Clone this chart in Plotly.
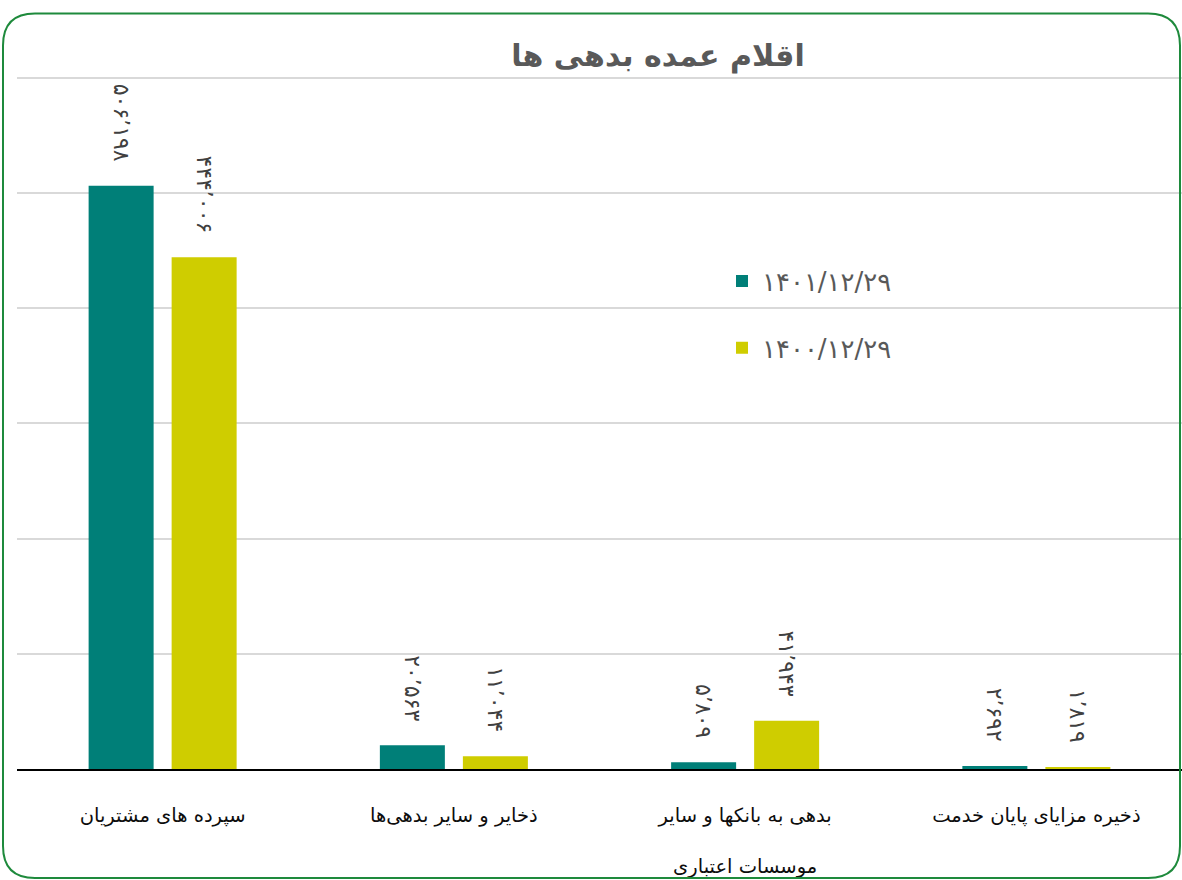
import plotly.graph_objects as go

categories = [
    "سپرده های مشتریان",
    "ذخایر و سایر بدهی‌ها",
    "بدهی به بانکها و سایر<br> <br>موسسات اعتباری",
    "ذخیره مزایای پایان خدمت",
]
series_names = ["۱۴۰۱/۱۲/۲۹", "۱۴۰۰/۱۲/۲۹"]
values_1401 = [506198, 20563, 5809, 2692]
values_1400 = [444006, 11044, 41943, 1819]
title_text = "اقلام عمده بدهی ها"

colors = ["#007F78", "#CFCD00"]

FA_DIGITS = str.maketrans("0123456789", "۰۱۲۳۴۵۶۷۸۹")


def fa_num(v):
    return f"{v:,}".replace(",", "٬").translate(FA_DIGITS) + "\u00a0\u00a0\u00a0"


W, H = 1182, 880
YMAX = 610000
ML, MR, MB = 17, 0, 111
BOTTOM = H - MB           # pixel y of value 0
GRID_TOP = 78             # pixel y of value 600000
MT = BOTTOM - (BOTTOM - GRID_TOP) * YMAX / 600000
PW, PH = W - ML - MR, H - MT - MB

fig = go.Figure()
for i, (name, vals) in enumerate(zip(series_names, [values_1401, values_1400])):
    fig.add_trace(go.Bar(
        x=categories, y=vals, name=name,
        marker=dict(color=colors[i], line=dict(width=0)),
        text=[fa_num(v) for v in vals],
        textposition="outside", textangle=90, constraintext="none",
        textfont=dict(size=22, color="#404040", family="DejaVu Sans"),
        cliponaxis=False,
        legendgroup=f"g{i}",
    ))


def px(x, y):
    return (x - ML) / PW, (H - MB - y) / PH


# rounded card border
x0, y0, x1, y1, r = 3, 14, 1180, 878, 32
pts = [
    ("M", [(x0, y0 + r)]),
    ("Q", [(x0, y0), (x0 + r, y0)]),
    ("L", [(x1 - r, y0)]),
    ("Q", [(x1, y0), (x1, y0 + r)]),
    ("L", [(x1, y1 - r)]),
    ("Q", [(x1, y1), (x1 - r, y1)]),
    ("L", [(x0 + r, y1)]),
    ("Q", [(x0, y1), (x0, y1 - r)]),
]
path = ""
for cmd, ps in pts:
    path += cmd + " " + " ".join(f"{px(a, b)[0]:.5f},{px(a, b)[1]:.5f}" for a, b in ps) + " "
path += "Z"

fig.update_layout(
    width=W, height=H,
    margin=dict(l=ML, r=MR, t=MT, b=MB, autoexpand=False),
    paper_bgcolor="white", plot_bgcolor="white",
    barmode="group", bargap=0.43, bargroupgap=0.217,
    font=dict(family="DejaVu Sans", color="#262626"),
    title=dict(
        text=f"<b>{title_text}</b>",
        x=(658 - ML) / PW, xref="paper", xanchor="center",
        y=1 - 55 / H, yanchor="middle",
        font=dict(size=30, color="#595959", family="DejaVu Sans"),
    ),
    showlegend=True,
    legend=dict(
        x=(722 - ML) / PW, y=(H - MB - 258) / PH, xanchor="left", yanchor="top",
        font=dict(size=26, color="#595959", family="DejaVu Sans"),
        bgcolor="rgba(0,0,0,0)", tracegroupgap=30, valign="top",
        traceorder="grouped",
    ),
    xaxis=dict(
        showline=True, linecolor="#000000", linewidth=2,
        showgrid=False, ticks="", ticklabelstandoff=28,
        tickfont=dict(size=19.5, color="#0d0d0d", family="DejaVu Sans"),
        fixedrange=True, automargin=False,
    ),
    yaxis=dict(
        range=[0, YMAX], dtick=100000, showticklabels=False,
        showgrid=True, gridcolor="#D9D9D9", gridwidth=1.5,
        zeroline=False, showline=False, fixedrange=True, automargin=False,
    ),
    shapes=[dict(type="path", path=path, xref="paper", yref="paper",
                 line=dict(color="#1E8A3C", width=2), fillcolor="rgba(0,0,0,0)")],
)

fig.write_html("out.html", config={"displayModeBar": False},
               post_script="document.body.style.margin='0';")
